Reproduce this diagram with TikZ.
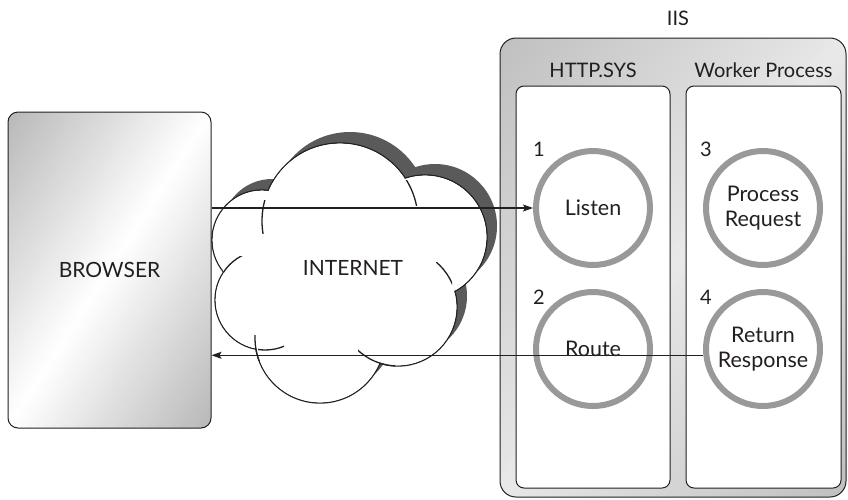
\documentclass[tikz,border=0pt]{standalone}
\usepackage{fontspec}
\setmainfont{Lato}
\usetikzlibrary{arrows.meta}
\definecolor{ink}{HTML}{231F20}
\definecolor{ring}{HTML}{999999}
\definecolor{cloudshadow}{HTML}{5A5A5A}
% diagonal gradient: x0 y0 w h edge% centre%
\newcommand\mydiagshade[6]{%
  \foreach \i in {0,...,79}{%
    \pgfmathsetmacro\ua{\i/40}%
    \pgfmathsetmacro\ub{(\i+1.3)/40}%
    \pgfmathsetmacro\pc{#6+(#5-#6)*abs((\i+0.5)/40-1)}%
    \fill[black!\pc] ({#1+\ua*#3},#2) -- ({#1+\ub*#3},#2) -- (#1,{#2+\ub*#4}) -- (#1,{#2+\ua*#4}) -- cycle;
  }}
\begin{document}
\begin{tikzpicture}[x=1pt,y=-1pt,
  txt/.style={text=ink, inner sep=0pt, font=\fontsize{21}{25}\selectfont},
  bigtxt/.style={text=ink, inner sep=0pt, font=\fontsize{20}{24}\selectfont},
  panel/.style={draw=ink, line width=1pt, fill=white, rounded corners=8pt, minimum width=154pt, minimum height=402pt, inner sep=0pt},
  proc/.style={circle, draw=ring, line width=6pt, fill=white, minimum size=114pt, inner sep=0pt, text=ink, align=center, font=\fontsize{21.5}{25}\selectfont},
  arr/.style={draw=ink, line width=1.2pt, -{Stealth[length=10pt,width=7pt,inset=2pt]}},
  cloudline/.style={draw=ink, line width=1.3pt},
]
\useasboundingbox (0,0) rectangle (848,499);

% browser
\begin{scope}
  \clip[rounded corners=10pt] (8,112) rectangle (211,428);
  \mydiagshade{8}{112}{203}{316}{28}{0}
\end{scope}
\node[draw=ink, line width=1pt, rounded corners=10pt,
      minimum width=203pt, minimum height=316pt, inner sep=0pt] (browser) at (109.5,270) {};
\node[txt] (browserlabel) at (109.5,269.5) {BROWSER};

% IIS
\begin{scope}
  \clip[rounded corners=16pt] (500,38) rectangle (846,497);
  \mydiagshade{500}{38}{346}{459}{25}{9}
\end{scope}
\node[draw=ink, line width=1pt, rounded corners=16pt,
      minimum width=346pt, minimum height=459pt, inner sep=0pt] (iis) at (673,267.5) {};
\node[bigtxt] (iislabel) at (678,18) {IIS};
\node[panel] (http) at (593,287) {};
\node[panel, minimum width=155pt] (worker) at (763.5,287) {};
\node[bigtxt] (httplabel) at (593,70) {HTTP.SYS};
\node[bigtxt] (workerlabel) at (763.5,70) {Worker Process};

% cloud shadow
\begin{scope}[shift={(10,-11)}]
  \fill[cloudshadow] (340,221) circle[radius=78pt] (425,237) circle[radius=62pt]
    (398,307) circle[radius=59pt] (320,338) circle[radius=65pt]
    (265,300) circle[radius=50pt] (262,240) circle[radius=50pt];
\end{scope}
% cloud outline
\draw[cloudline, fill=white] (340,221) circle[radius=78pt] (425,237) circle[radius=62pt]
    (398,307) circle[radius=59pt] (320,338) circle[radius=65pt]
    (265,300) circle[radius=50pt] (262,240) circle[radius=50pt];
\fill[white] (340,221) circle[radius=77.3pt] (425,237) circle[radius=61.3pt]
    (398,307) circle[radius=58.3pt] (320,338) circle[radius=64.3pt]
    (265,300) circle[radius=49.3pt] (262,240) circle[radius=49.3pt];
% inner stubs
\begin{scope}\clip (255,200) rectangle (280,233); \draw[cloudline] (340,221) circle[radius=78pt]; \end{scope}
\begin{scope}\clip (224,256) rectangle (250,276); \draw[cloudline] (265,300) circle[radius=50pt]; \end{scope}
\begin{scope}\clip (258,335) rectangle (284,356); \draw[cloudline] (265,300) circle[radius=50pt]; \end{scope}
\begin{scope}\clip (250,335) rectangle (262,360); \draw[cloudline] (320,338) circle[radius=65pt]; \end{scope}
\begin{scope}\clip (358,345) rectangle (395,372); \draw[cloudline] (398,307) circle[radius=59pt]; \end{scope}
\begin{scope}\clip (436,262) rectangle (452,285); \draw[cloudline] (398,307) circle[radius=59pt]; \end{scope}
\begin{scope}\clip (400,180) rectangle (418,205); \draw[cloudline] (340,221) circle[radius=78pt]; \end{scope}
\node[txt] (internet) at (353,268) {INTERNET};

% processes
\node[proc] (listen) at (593,208) {Listen};
\node[proc] (route) at (593,349) {Route};
\node[proc] (process) at (763,208) {Process\\Request};
\node[proc] (return) at (763,349) {Return\\Response};
\node[bigtxt] (n1) at (539,149) {1};
\node[bigtxt] (n2) at (539,297) {2};
\node[bigtxt] (n3) at (706,149) {3};
\node[bigtxt] (n4) at (706,297) {4};

% connectors
\draw[arr] (browser.east |- listen.west) -- (listen.west);
\draw[arr] (return.186) -- (browser.east |- return.186);
\end{tikzpicture}
\end{document}
